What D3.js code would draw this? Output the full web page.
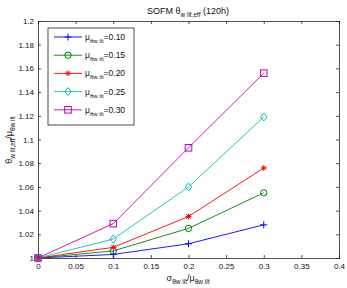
<!DOCTYPE html>
<html>
<head>
<meta charset="utf-8">
<script src="https://cdn.jsdelivr.net/npm/d3@7"></script>
<style>
body { margin: 0; background: #fff; }
text { font-family: "Liberation Sans", Arial, sans-serif; }
</style>
</head>
<body>
<svg id="chart" width="347" height="288"></svg>
<script>
var xValues = [0, 0.1, 0.2, 0.3];
var muLabels = ["0.10", "0.15", "0.20", "0.25", "0.30"];
var s010 = [1, 1.003, 1.012, 1.028];
var s015 = [1, 1.006, 1.025, 1.055];
var s020 = [1, 1.009, 1.035, 1.076];
var s025 = [1, 1.016, 1.060, 1.119];
var s030 = [1, 1.029, 1.093, 1.156];
var xTicks = [0, 0.05, 0.1, 0.15, 0.2, 0.25, 0.3, 0.35, 0.4];
var yTicks = [1, 1.02, 1.04, 1.06, 1.08, 1.1, 1.12, 1.14, 1.16, 1.18, 1.2];

var seriesList = [
	{ vals: s010, color: "#0000ff", marker: "plus" },
	{ vals: s015, color: "#008000", marker: "circle" },
	{ vals: s020, color: "#ff0000", marker: "star" },
	{ vals: s025, color: "#00bfbf", marker: "diamond" },
	{ vals: s030, color: "#bf00bf", marker: "square" }
];

var svg = d3.select("#chart");
// note: "top" is taken by window.top, so plot edges get their own names
var plotL = 38, plotR = 339, plotT = 21, plotB = 258;

var x = d3.scaleLinear().domain([0, 0.4]).range([plotL, plotR]);
var y = d3.scaleLinear().domain([1, 1.2]).range([plotB, plotT]);

var fmt = function(d) { return String(+d.toFixed(2)); };

// axes with inward ticks
var axB = svg.append("g").attr("transform", "translate(0," + plotB + ")")
	.call(d3.axisBottom(x).tickValues(xTicks).tickSize(-3).tickPadding(5).tickFormat(fmt));
var axT = svg.append("g").attr("transform", "translate(0," + plotT + ")")
	.call(d3.axisTop(x).tickValues(xTicks).tickSize(-3).tickFormat(""));
var axL = svg.append("g").attr("transform", "translate(" + plotL + ",0)")
	.call(d3.axisLeft(y).tickValues(yTicks).tickSize(-3).tickPadding(4).tickFormat(fmt));
var axR = svg.append("g").attr("transform", "translate(" + plotR + ",0)")
	.call(d3.axisRight(y).tickValues(yTicks).tickSize(-3).tickFormat(""));

[axB, axT, axL, axR].forEach(function(a) {
	a.selectAll(".domain").attr("stroke", "#222").attr("stroke-width", 0.8);
	a.selectAll(".tick line").attr("stroke", "#222").attr("stroke-width", 0.8);
	a.selectAll(".tick text").attr("font-size", 8).attr("fill", "#111")
		.attr("font-family", "Liberation Sans, Arial, sans-serif");
});

var line = d3.line()
	.x(function(d, i) { return x(xValues[i]); })
	.y(function(d) { return y(d); });

var drawMarker = function(g, type, cx, cy, color) {
	if (type === "plus") {
		g.append("path").attr("d", "M" + (cx - 3.5) + "," + cy + "H" + (cx + 3.5) + "M" + cx + "," + (cy - 3.5) + "V" + (cy + 3.5))
			.attr("stroke", color).attr("fill", "none");
	} else if (type === "circle") {
		g.append("circle").attr("cx", cx).attr("cy", cy).attr("r", 3.2)
			.attr("stroke", color).attr("fill", "none");
	} else if (type === "star") {
		g.append("path").attr("d", "M" + (cx - 3) + "," + cy + "H" + (cx + 3) + "M" + cx + "," + (cy - 3) + "V" + (cy + 3) +
			"M" + (cx - 2.2) + "," + (cy - 2.2) + "L" + (cx + 2.2) + "," + (cy + 2.2) +
			"M" + (cx - 2.2) + "," + (cy + 2.2) + "L" + (cx + 2.2) + "," + (cy - 2.2))
			.attr("stroke", color).attr("fill", "none");
	} else if (type === "diamond") {
		g.append("path").attr("d", "M" + cx + "," + (cy - 4) + "L" + (cx + 3.3) + "," + cy + "L" + cx + "," + (cy + 4) + "L" + (cx - 3.3) + "," + cy + "Z")
			.attr("stroke", color).attr("fill", "none");
	} else {
		g.append("rect").attr("x", cx - 3.3).attr("y", cy - 3.3).attr("width", 6.6).attr("height", 6.6)
			.attr("stroke", color).attr("fill", "none");
	}
};

seriesList.forEach(function(s) {
	var g = svg.append("g");
	g.append("path").datum(s.vals).attr("d", line)
		.attr("fill", "none").attr("stroke", s.color).attr("stroke-width", 0.9);
	s.vals.forEach(function(v, i) {
		drawMarker(g, s.marker, x(xValues[i]), y(v), s.color);
	});
});

// legend
var lg = svg.append("g");
lg.append("rect").attr("x", 48).attr("y", 28).attr("width", 86).attr("height", 97)
	.attr("fill", "#fff").attr("stroke", "#222").attr("stroke-width", 0.8);
seriesList.forEach(function(s, i) {
	var ly = 37 + i * 18.2;
	lg.append("line").attr("x1", 54).attr("x2", 82).attr("y1", ly).attr("y2", ly)
		.attr("stroke", s.color).attr("stroke-width", 0.9);
	drawMarker(lg, s.marker, 68, ly, s.color);
	var t = lg.append("text").attr("x", 85).attr("y", ly + 3).attr("font-size", 8.5).attr("fill", "#111");
	t.append("tspan").text("\u03bc");
	t.append("tspan").attr("font-size", 6).attr("dy", 3).text("\u03b8w ilt");
	t.append("tspan").attr("dy", -3).text("=" + muLabels[i]);
});

// title
var title = svg.append("text").attr("x", 188).attr("y", 14).attr("text-anchor", "middle")
	.attr("font-size", 9).attr("fill", "#111");
title.append("tspan").text("SOFM \u03b8");
title.append("tspan").attr("font-size", 6.5).attr("dy", 3).text("w ilt,eff");
title.append("tspan").attr("dy", -3).text(" (120h)");

// x label
var xl = svg.append("text").attr("x", 188).attr("y", 281).attr("text-anchor", "middle")
	.attr("font-size", 9).attr("fill", "#111");
xl.append("tspan").text("\u03c3");
xl.append("tspan").attr("font-size", 6.5).attr("dy", 3).text("\u03b8w ilt");
xl.append("tspan").attr("dy", -3).text("/\u03bc");
xl.append("tspan").attr("font-size", 6.5).attr("dy", 3).text("\u03b8w ilt");

// y label
var yl = svg.append("text").attr("transform", "translate(12,140) rotate(-90)").attr("text-anchor", "middle")
	.attr("font-size", 9).attr("fill", "#111");
yl.append("tspan").text("\u03b8");
yl.append("tspan").attr("font-size", 6.5).attr("dy", 3).text("w ilt,eff");
yl.append("tspan").attr("dy", -3).text("/\u03bc");
yl.append("tspan").attr("font-size", 6.5).attr("dy", 3).text("\u03b8w ilt");
</script>
</body>
</html>
